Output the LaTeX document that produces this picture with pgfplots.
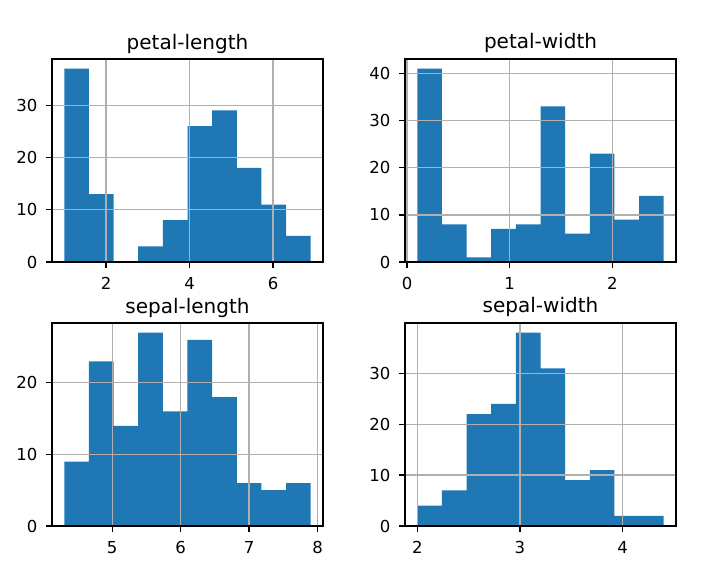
\documentclass[border=0pt]{standalone}
\usepackage{fontspec}
\setmainfont{DejaVu Sans}
\usepackage{pgfplots}
\pgfplotsset{compat=1.18}
\definecolor{mplblue}{HTML}{1F77B4}
\definecolor{mplgrid}{HTML}{B0B0B0}
\pgfplotsset{
  histo/.style={
    scale only axis, width=162.6pt, height=121.8pt, anchor=south west,
    axis on top, grid=major, grid style={mplgrid, line width=0.8pt},
    axis line style={line width=0.8pt},
    tick align=outside, xtick pos=left, ytick pos=left,
    major tick length=3.5pt, tick style={line width=0.8pt, black},
    ymin=0, scaled ticks=false,
    /pgf/number format/assume math mode=true,
    tick label style={font=\fontsize{9.9}{12}\selectfont},
    xticklabel style={yshift=-2.4pt},
    yticklabel style={xshift=-1.8pt},
    title style={font=\fontsize{12}{14}\selectfont, at={(0.5,1)}, anchor=base},
  },
  bars/.style={ybar interval, fill=mplblue, draw=none},
}
\begin{document}
\begin{tikzpicture}
\path[use as bounding box] (0,0) rectangle (431.4pt,343.8pt);

% petal-length
\begin{axis}[histo, at={(31.2pt,186.6pt)}, title={petal-length},
  xmin=0.705, xmax=7.195, ymax=38.85, xtick={2,4,6}, ytick={0,10,20,30}]
\addplot[bars] coordinates {(1.0,37) (1.59,13) (2.18,0) (2.77,3) (3.36,8)
  (3.95,26) (4.54,29) (5.13,18) (5.72,11) (6.31,5) (6.9,0)};
\end{axis}

% petal-width
\begin{axis}[histo, at={(243pt,186.6pt)}, title={petal-width},
  xmin=-0.02, xmax=2.62, ymax=43.05, xtick={0,1,2}, ytick={0,10,20,30,40}]
\addplot[bars] coordinates {(0.1,41) (0.34,8) (0.58,1) (0.82,7) (1.06,8)
  (1.30,33) (1.54,6) (1.78,23) (2.02,9) (2.26,14) (2.5,0)};
\end{axis}

% sepal-length
\begin{axis}[histo, at={(31.2pt,28.2pt)}, title={sepal-length},
  xmin=4.12, xmax=8.08, ymax=28.35, xtick={5,6,7,8}, ytick={0,10,20}]
\addplot[bars] coordinates {(4.3,9) (4.66,23) (5.02,14) (5.38,27) (5.74,16)
  (6.10,26) (6.46,18) (6.82,6) (7.18,5) (7.54,6) (7.9,0)};
\end{axis}

% sepal-width
\begin{axis}[histo, at={(243pt,28.2pt)}, title={sepal-width},
  xmin=1.88, xmax=4.52, ymax=39.9, xtick={2,3,4}, ytick={0,10,20,30}]
\addplot[bars] coordinates {(2.0,4) (2.24,7) (2.48,22) (2.72,24) (2.96,38)
  (3.20,31) (3.44,9) (3.68,11) (3.92,2) (4.16,2) (4.4,0)};
\end{axis}
\end{tikzpicture}
\end{document}
